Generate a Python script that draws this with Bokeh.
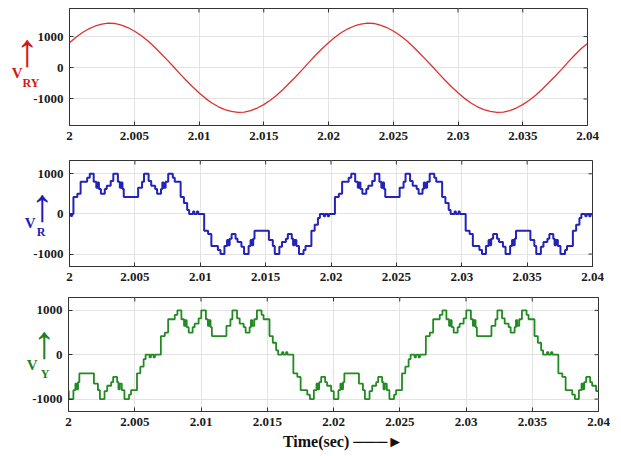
import math
from bokeh.plotting import figure
from bokeh.layouts import column, row
from bokeh.models import Range1d, FixedTicker, LinearAxis, ColumnDataSource
from bokeh.embed import file_html
from bokeh.resources import INLINE

# ---------------- data ----------------
x_ticks = [2.0, 2.005, 2.01, 2.015, 2.02, 2.025, 2.03, 2.035, 2.04]
x_tick_labels = ["2", "2.005", "2.01", "2.015", "2.02", "2.025", "2.03", "2.035", "2.04"]
y_ticks = [-1000, 0, 1000]
y_tick_labels = ["-1000", "0", "1000"]

# line voltage V_RY, time in ms after 2 s
vry_ms = [0.0, 0.5, 1.0, 1.5, 2.0, 2.5, 3.0, 3.5, 4.0, 4.5, 5.0, 5.5, 6.0, 6.5, 7.0, 7.5, 8.0, 8.5, 9.0, 9.5,
          10.0, 10.5, 11.0, 11.5, 12.0, 12.5, 13.0, 13.5, 14.0, 14.5, 15.0, 15.5, 16.0, 16.5, 17.0, 17.5, 18.0, 18.5, 19.0, 19.5,
          20.0, 20.5, 21.0, 21.5, 22.0, 22.5, 23.0, 23.5, 24.0, 24.5, 25.0, 25.5, 26.0, 26.5, 27.0, 27.5, 28.0, 28.5, 29.0, 29.5,
          30.0, 30.5, 31.0, 31.5, 32.0, 32.5, 33.0, 33.5, 34.0, 34.5, 35.0, 35.5, 36.0, 36.5, 37.0, 37.5, 38.0, 38.5, 39.0, 39.5, 40.0]
vry = [800, 980, 1130, 1250, 1340, 1400, 1430, 1420, 1370, 1290, 1180, 1040, 880, 690, 480, 270, 50, -180, -400, -610,
       -800, -980, -1130, -1250, -1340, -1400, -1430, -1420, -1370, -1290, -1180, -1040, -880, -690, -480, -270, -50, 180, 400, 610,
       800, 980, 1130, 1250, 1340, 1400, 1430, 1420, 1370, 1290, 1180, 1040, 880, 690, 480, 270, 50, -180, -400, -610,
       -800, -980, -1130, -1250, -1340, -1400, -1430, -1420, -1370, -1290, -1180, -1040, -880, -690, -480, -270, -50, 180, 400, 610, 780]

# phase voltage V_R (stepped), level changes at these times (ms after 2 s)
vr_ms = [0.00, 0.10, 0.20,
         0.30, 0.60, 0.85, 1.35, 1.55, 1.85, 2.05, 2.15, 2.25, 2.40, 2.70, 2.85, 3.15, 3.35, 3.70, 3.85, 3.95, 4.05, 4.15,
         5.25, 5.55, 5.70, 6.05, 6.25, 6.55, 6.70, 7.00, 7.10, 7.20, 7.35, 7.55, 7.90, 8.05, 8.50, 8.75, 9.00, 9.15, 9.45, 9.55, 9.75, 9.85,
         10.30, 10.60, 10.85, 11.35, 11.55, 11.85, 12.05, 12.15, 12.25, 12.40, 12.70, 12.85, 13.15, 13.35, 13.70, 13.85, 13.95, 14.05, 14.15,
         15.25, 15.55, 15.70, 16.05, 16.25, 16.55, 16.70, 17.00, 17.10, 17.20, 17.35, 17.55, 17.90, 18.05, 18.50, 18.75, 19.00, 19.15, 19.45, 19.55, 19.75, 19.85,
         20.30, 20.60, 20.85, 21.35, 21.55, 21.85, 22.05, 22.15, 22.25, 22.40, 22.70, 22.85, 23.15, 23.35, 23.70, 23.85, 23.95, 24.05, 24.15,
         25.25, 25.55, 25.70, 26.05, 26.25, 26.55, 26.70, 27.00, 27.10, 27.20, 27.35, 27.55, 27.90, 28.05, 28.50, 28.75, 29.00, 29.15, 29.45, 29.55, 29.75, 29.85,
         30.30, 30.60, 30.85, 31.35, 31.55, 31.85, 32.05, 32.15, 32.25, 32.40, 32.70, 32.85, 33.15, 33.35, 33.70, 33.85, 33.95, 34.05, 34.15,
         35.25, 35.55, 35.70, 36.05, 36.25, 36.55, 36.70, 37.00, 37.10, 37.20, 37.35, 37.55, 37.90, 38.05, 38.50, 38.75, 39.00, 39.15, 39.45, 39.55, 39.75, 39.85,
         40.00]
vr = [0, -50, 0,
      420, 500, 800, 900, 1000, 800, 650, 780, 620, 500, 620, 700, 820, 1000, 800, 650, 780, 620, 420,
      650, 800, 1000, 820, 700, 620, 500, 620, 780, 650, 800, 1000, 900, 800, 420, 270, 100, 0, 60, 0, 60, 0,
      -420, -500, -800, -900, -1000, -800, -650, -780, -620, -500, -620, -700, -820, -1000, -800, -650, -780, -620, -420,
      -650, -800, -1000, -820, -700, -620, -500, -620, -780, -650, -800, -1000, -900, -800, -420, -270, -100, 0, -60, 0, -60, 0,
      420, 500, 800, 900, 1000, 800, 650, 780, 620, 500, 620, 700, 820, 1000, 800, 650, 780, 620, 420,
      650, 800, 1000, 820, 700, 620, 500, 620, 780, 650, 800, 1000, 900, 800, 420, 270, 100, 0, 60, 0, 60, 0,
      -420, -500, -800, -900, -1000, -800, -650, -780, -620, -500, -620, -700, -820, -1000, -800, -650, -780, -620, -420,
      -650, -800, -1000, -820, -700, -620, -500, -620, -780, -650, -800, -1000, -900, -800, -420, -270, -100, 0, -60, 0, -60, 0,
      0]

# phase voltage V_Y (stepped)
vy_ms = [0.00,
         0.02, 0.37, 0.52, 0.62, 0.72, 0.82, 1.92, 2.22, 2.37, 2.72, 2.92, 3.22, 3.37, 3.67, 3.77, 3.87, 4.02, 4.22, 4.57, 4.72,
         5.17, 5.42, 5.67, 5.82, 6.12, 6.22, 6.42, 6.52,
         6.97, 7.27, 7.52, 8.02, 8.22, 8.52, 8.72, 8.82, 8.92, 9.07, 9.37, 9.52, 9.82, 10.02, 10.37, 10.52, 10.62, 10.72, 10.82,
         11.92, 12.22, 12.37, 12.72, 12.92, 13.22, 13.37, 13.67, 13.77, 13.87, 14.02, 14.22, 14.57, 14.72, 15.17, 15.42, 15.67, 15.82, 16.12, 16.22, 16.42, 16.52,
         16.97, 17.27, 17.52, 18.02, 18.22, 18.52, 18.72, 18.82, 18.92, 19.07, 19.37, 19.52, 19.82, 20.02, 20.37, 20.52, 20.62, 20.72, 20.82,
         21.92, 22.22, 22.37, 22.72, 22.92, 23.22, 23.37, 23.67, 23.77, 23.87, 24.02, 24.22, 24.57, 24.72, 25.17, 25.42, 25.67, 25.82, 26.12, 26.22, 26.42, 26.52,
         26.97, 27.27, 27.52, 28.02, 28.22, 28.52, 28.72, 28.82, 28.92, 29.07, 29.37, 29.52, 29.82, 30.02, 30.37, 30.52, 30.62, 30.72, 30.82,
         31.92, 32.22, 32.37, 32.72, 32.92, 33.22, 33.37, 33.67, 33.77, 33.87, 34.02, 34.22, 34.57, 34.72, 35.17, 35.42, 35.67, 35.82, 36.12, 36.22, 36.42, 36.52,
         36.97, 37.27, 37.52, 38.02, 38.22, 38.52, 38.72, 38.82, 38.92, 39.07, 39.37, 39.52, 39.82, 40.00]
vy = [-820,
      -1000, -800, -650, -780, -620, -420, -650, -800, -1000, -820, -700, -620, -500, -620, -780, -650, -800, -1000, -900, -800,
      -420, -270, -100, 0, -60, 0, -60, 0,
      420, 500, 800, 900, 1000, 800, 650, 780, 620, 500, 620, 700, 820, 1000, 800, 650, 780, 620, 420,
      650, 800, 1000, 820, 700, 620, 500, 620, 780, 650, 800, 1000, 900, 800, 420, 270, 100, 0, 60, 0, 60, 0,
      -420, -500, -800, -900, -1000, -800, -650, -780, -620, -500, -620, -700, -820, -1000, -800, -650, -780, -620, -420,
      -650, -800, -1000, -820, -700, -620, -500, -620, -780, -650, -800, -1000, -900, -800, -420, -270, -100, 0, -60, 0, -60, 0,
      420, 500, 800, 900, 1000, 800, 650, 780, 620, 500, 620, 700, 820, 1000, 800, 650, 780, 620, 420,
      650, 800, 1000, 820, 700, 620, 500, 620, 780, 650, 800, 1000, 900, 800, 420, 270, 100, 0, 60, 0, 60, 0,
      -420, -500, -800, -900, -1000, -800, -650, -780, -620, -500, -620, -700, -820, -820]

FONT = "Liberation Serif"
EDGE = "#333333"
NO_TICKS = dict(axis_line_color=None, major_tick_line_color=None, minor_tick_line_color=None,
                major_tick_in=0, major_tick_out=0, minor_tick_in=0, minor_tick_out=0)


def to_sec(ms_list):
    return [2.0 + m / 1000.0 for m in ms_list]


def panel(height, ylo, yhi, top, bottom, left, right):
    p = figure(width=621, height=height, output_backend="svg", toolbar_location=None,
               x_range=Range1d(2.0, 2.04), y_range=Range1d(ylo, yhi),
               min_border_top=top, min_border_bottom=bottom,
               min_border_left=left, min_border_right=right)
    p.outline_line_color = EDGE
    p.background_fill_color = "white"
    p.border_fill_color = "white"
    for ax, ticks, labels in ((p.xaxis[0], x_ticks, x_tick_labels), (p.yaxis[0], y_ticks, y_tick_labels)):
        ax.ticker = FixedTicker(ticks=ticks)
        ax.major_label_overrides = dict(zip(ticks, labels))
        ax.major_label_text_font = FONT
        ax.major_label_text_font_style = "bold"
        ax.major_label_text_font_size = "13px"
        ax.major_label_text_color = "#1a1a1a"
        ax.major_tick_in = 4
        ax.major_tick_out = 0
        ax.minor_tick_in = 0
        ax.minor_tick_out = 0
        ax.minor_tick_line_color = None
        ax.axis_line_color = EDGE
        ax.major_tick_line_color = EDGE
        ax.major_label_standoff = 6
    p.xgrid.grid_line_color = "#e3e3e3"
    p.ygrid.grid_line_color = "#e3e3e3"
    # inward tick marks on the top and right edges of the box
    p.scatter(x=x_ticks, y=[yhi] * len(x_ticks), marker="dash", angle=math.pi / 2, size=8,
              line_color=EDGE, line_width=1)
    p.scatter(x=[2.04] * len(y_ticks), y=y_ticks, marker="dash", size=8, line_color=EDGE, line_width=1)
    return p


def label_axis(p, y, text, standoff, color, size, font=FONT, style="bold"):
    ax = LinearAxis(ticker=FixedTicker(ticks=[y]), major_label_overrides={y: text},
                    major_label_text_font=font, major_label_text_font_style=style,
                    major_label_text_font_size=size, major_label_text_color=color,
                    major_label_standoff=standoff, **NO_TICKS)
    p.add_layout(ax, "left")


UP = "\u2191"
ARROW_SIZE = "46px"

# ---- panel 1: V_RY ----
p1 = panel(150, -1850, 1900, 8, 25, 69, 34)
p1.line(x="t", y="v", source=ColumnDataSource(dict(t=to_sec(vry_ms), v=vry)),
        line_color="#dd3030", line_width=1.3)
RED = "#d01818"
label_axis(p1, -472, "RY", -9, RED, "12px")
label_axis(p1, -183, "V", -3, RED, "15px")
label_axis(p1, 554, UP, -30, RED, ARROW_SIZE, font="Liberation Sans", style="normal")

# ---- panel 2: V_R ----
p2 = panel(140, -1310, 1330, 10, 24, 69, 29)
p2.step(x="t", y="v", source=ColumnDataSource(dict(t=to_sec(vr_ms), v=vr)), mode="after",
        line_color="#2323b8", line_width=2)
BLUE = "#1c1cb8"
label_axis(p2, -226, "V", -5, BLUE, "15px")
label_axis(p2, -455, "R", -24, BLUE, "12px")
label_axis(p2, 234, UP, -32, BLUE, ARROW_SIZE, font="Liberation Sans", style="normal")

# ---- panel 3: V_Y ----
p3 = panel(166, -1280, 1290, 7, 45, 68, 23)
p3.step(x="t", y="v", source=ColumnDataSource(dict(t=to_sec(vy_ms), v=vy)), mode="after",
        line_color="#238a23", line_width=1.8)
GREEN = "#1e7f1e"
label_axis(p3, -236, "V", -8, GREEN, "15px")
label_axis(p3, -441, "Y", -26, GREEN, "12px")
label_axis(p3, 291, UP, -32, GREEN, ARROW_SIZE, font="Liberation Sans", style="normal")

# x title with arrow, below the bottom panel
t_ax = LinearAxis(ticker=FixedTicker(ticks=[2.02072]),
                  major_label_overrides={2.02072: "Time(sec) \u2500\u2500\u2500\u25ba"},
                  major_label_text_font=FONT, major_label_text_font_style="bold",
                  major_label_text_font_size="16px", major_label_text_color="#111111",
                  major_label_standoff=4, **NO_TICKS)
p3.add_layout(t_ax, "below")

layout = column(row(p1), row(p2), row(p3), spacing=0)
open("out.html", "w").write(file_html(layout, INLINE))
